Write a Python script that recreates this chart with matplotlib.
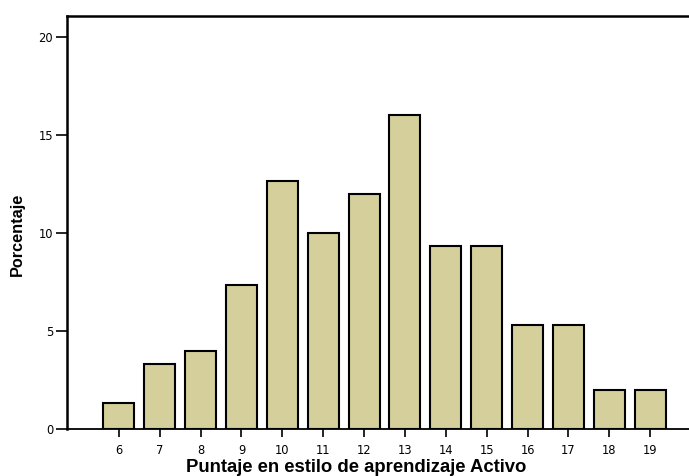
import matplotlib
matplotlib.use("Agg")
import matplotlib.pyplot as plt

# Puntaje en estilo de aprendizaje Activo -> porcentaje
scores = [6, 7, 8, 9, 10, 11, 12, 13, 14, 15, 16, 17, 18, 19]
percent = [1.33, 3.33, 4.0, 7.33, 12.67, 10.0, 12.0, 16.0, 9.33, 9.33, 5.33, 5.33, 2.0, 2.0]
y_ticks = [0, 5, 10, 15, 20]

plt.rcParams["font.family"] = ["Liberation Sans", "DejaVu Sans"]

fig = plt.figure(figsize=(6.89, 4.76), dpi=100)
ax = fig.add_axes([0.0972, 0.0987, 0.9028, 0.8676])

ax.bar(scores, percent, width=0.76, color="#D4CF9B", edgecolor="black", linewidth=1.5)

ax.set_xlim(4.73, 19.95)
ax.set_ylim(0, 21.07)
ax.set_xticks(scores)
ax.set_yticks(y_ticks)
ax.tick_params(axis="x", direction="out", length=6, width=1.2, pad=5)
ax.tick_params(axis="y", direction="out", length=8, width=1.2, pad=2)
for lab in ax.get_xticklabels() + ax.get_yticklabels():
    lab.set_family(["DejaVu Sans"])
    lab.set_fontsize(8.3)

ax.spines["right"].set_visible(False)
ax.spines["left"].set_linewidth(1.8)
ax.spines["top"].set_linewidth(1.8)
ax.spines["bottom"].set_linewidth(1.3)

# label positions in figure pixels
fig.text(356 / 689, 1 - 467 / 476, "Puntaje en estilo de aprendizaje Activo",
         fontsize=13.3, fontweight="bold", ha="center", va="center")
fig.text(17 / 689, 1 - 234 / 476, "Porcentaje",
         fontsize=11.7, fontweight="bold", rotation=90, ha="center", va="center")

fig.savefig("out.png", dpi=100)
